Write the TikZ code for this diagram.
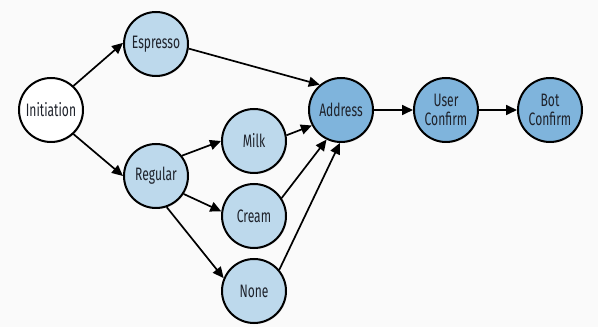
\documentclass[tikz,border=0pt]{standalone}
\usepackage{fontspec}
\setmainfont{Fira Sans}[FakeStretch=0.67]
\usetikzlibrary{arrows.meta,shadows}
\definecolor{stateLight}{HTML}{BDD9EC}
\definecolor{stateDark}{HTML}{7FB4DC}
\definecolor{labelInk}{HTML}{1E222B}
\definecolor{paper}{HTML}{FAFAFA}
\begin{document}
\begin{tikzpicture}[x=1pt,y=1pt,
  state/.style={circle, draw=black, line width=2pt, minimum size=64pt, inner sep=0pt,
    align=center, text=labelInk, font=\fontsize{18}{19}\selectfont,
    drop shadow={opacity=0.18, shadow xshift=1pt, shadow yshift=-1.2pt}},
  start/.style={state, fill=white},
  option/.style={state, fill=stateLight},
  final/.style={state, fill=stateDark},
  flow/.style={draw=black, line width=1.7pt, -{Triangle[length=11pt,width=10pt]}}
]
  % page
  \fill[paper] (0,0) rectangle (598,327);
  \useasboundingbox (0,0) rectangle (598,327);

  % states
  \node[start]  (init)    at (51,217)  {Initiation};
  \node[option] (espresso) at (156,283) {Espresso};
  \node[option] (regular) at (156,151) {Regular};
  \node[option] (milk)    at (254,186) {Milk};
  \node[option] (cream)   at (254,111) {Cream};
  \node[option] (none)    at (254,36)  {None};
  \node[final]  (address) at (341,217) {Address};
  \node[final]  (user)    at (446,217) {User\\Confirm};
  \node[final]  (bot)     at (550,217) {Bot\\Confirm};

  % transitions
  \draw[flow] (init.47)     -- (espresso.178);
  \draw[flow] (init.-47)    -- (regular.180);
  \draw[flow] (espresso.-8) -- (address.130);
  \draw[flow] (regular.38)  -- (milk.180);
  \draw[flow] (regular.-33) -- (cream.172);
  \draw[flow] (regular.-71) -- (none.157);
  \draw[flow] (milk.10)     -- (address.208);
  \draw[flow] (cream.33)    -- (address.244);
  \draw[flow] (none.40)     -- (address.268);
  \draw[flow] (address)     -- (user);
  \draw[flow] (user)        -- (bot);
\end{tikzpicture}
\end{document}
